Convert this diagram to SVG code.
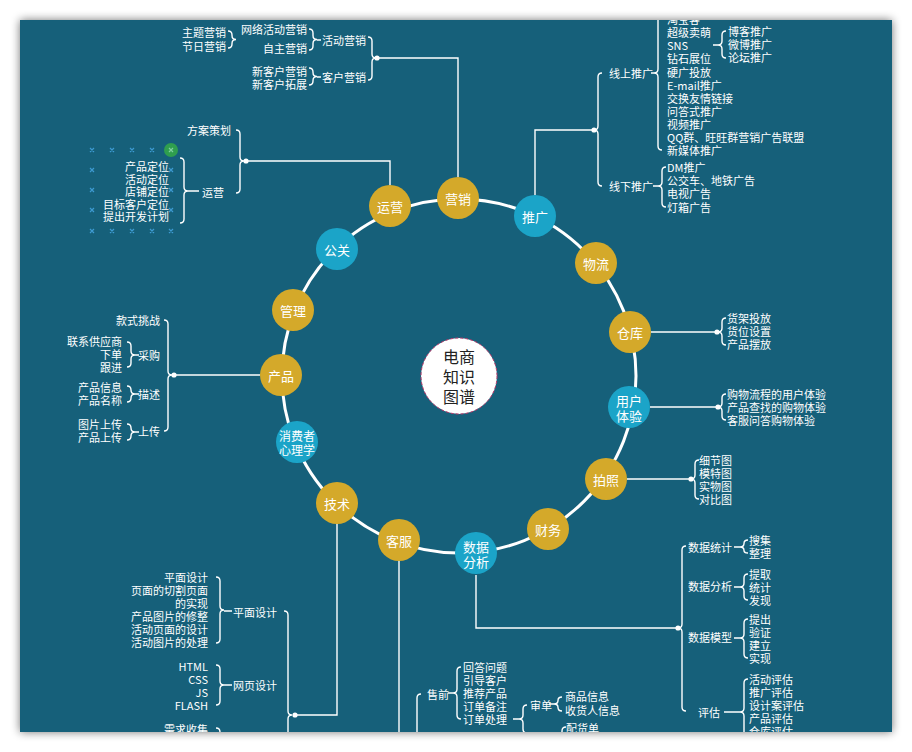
<svg xmlns="http://www.w3.org/2000/svg" width="912" height="752" viewBox="0 0 912 752">
<defs>
<clipPath id="panel"><rect x="20" y="20" width="872" height="712"/></clipPath>
<filter id="sh" x="-5%" y="-5%" width="110%" height="110%"><feGaussianBlur in="SourceAlpha" stdDeviation="5"/><feComponentTransfer><feFuncA type="linear" slope="0.55"/></feComponentTransfer><feMerge><feMergeNode/><feMergeNode in="SourceGraphic"/></feMerge></filter>
<style>
.t{font-family:"Noto Sans CJK SC","Liberation Sans",sans-serif;font-size:11px;fill:#ffffff;dominant-baseline:central}
.e{text-anchor:end}
.n{font-family:"Noto Sans CJK SC","Liberation Sans",sans-serif;font-size:13px;fill:#ffffff;text-anchor:middle;dominant-baseline:central}
.c{font-family:"Noto Sans CJK SC","Liberation Sans",sans-serif;font-size:16px;fill:#222;text-anchor:middle;dominant-baseline:central}
.l{fill:none;stroke:#ffffff;stroke-width:1.4}
.g{fill:#d4a92a}
.b{fill:#1ba4c8}
.x{stroke:#3d9ad0;stroke-width:1.2}
</style>
</defs>
<rect x="0" y="0" width="912" height="752" fill="#ffffff"/>
<rect x="20" y="20" width="872" height="712" fill="#14607a" filter="url(#sh)"/>
<g clip-path="url(#panel)">
<g id="connectors" class="l">
<circle cx="459" cy="376" r="177" stroke-width="3"/>
<path d="M458,177V58H377"/>
<path d="M535,195V130H594"/>
<path d="M390,185V161H246"/>
<path d="M260,375H174"/>
<path d="M651,332H717"/>
<path d="M650,407H718"/>
<path d="M627,479H691"/>
<path d="M476,575V628H678"/>
<path d="M337,524V715H295"/>
<path d="M399,561V760"/>
<!-- } braces -->
<path d="M368,37Q372,37 372,41V54Q372,58 376,58Q372,58 372,62V76Q372,80 368,80"/>
<path d="M309,29Q313,29 313,33V35.5Q313,39.5 317,39.5Q313,39.5 313,43.5V46Q313,50 309,50"/>
<path d="M228,31Q232,31 232,35V35.5Q232,39.5 236,39.5Q232,39.5 232,43.5V44Q232,48 228,48"/>
<path d="M309,68Q313,68 313,72V72.5Q313,76.5 317,76.5Q313,76.5 313,80.5V81Q313,85 309,85"/>
<path d="M236,130Q240,130 240,134V157Q240,161 244,161Q240,161 240,165V189Q240,193 236,193"/>
<path d="M180,158Q184,158 184,162V187Q184,191 188,191Q184,191 184,195V219Q184,223 180,223"/>
<path d="M164,320Q168,320 168,324V371Q168,375 172,375Q168,375 168,379V427Q168,431 164,431"/>
<path d="M127,342Q131,342 131,346V351Q131,355 135,355Q131,355 131,359V363Q131,367 127,367"/>
<path d="M127,386Q131,386 131,390V390Q131,394 135,394Q131,394 131,398V398Q131,402 127,402"/>
<path d="M127,424Q131,424 131,428V428Q131,432 135,432Q131,432 131,436V436Q131,440 127,440"/>
<path d="M284,611Q288,611 288,615V711Q288,715 292,715Q288,715 288,719V816Q288,820 284,820"/>
<path d="M216,577Q220,577 220,581V606Q220,610 224,610Q220,610 220,614V639Q220,643 216,643"/>
<path d="M216,665Q220,665 220,669V681Q220,685 224,685Q220,685 220,689V701Q220,705 216,705"/>
<path d="M216,728Q220,728 220,732V756Q220,760 224,760Q220,760 220,764V786Q220,790 216,790"/>
<!-- { braces -->
<path d="M602,73Q598,73 598,77V126Q598,130 594,130Q598,130 598,134V182Q598,186 602,186"/>
<path d="M662,-10Q658,-10 658,-6V69Q658,73 654,73Q658,73 658,77V146Q658,150 662,150"/>
<path d="M726,31Q722,31 722,35V41Q722,45 718,45Q722,45 722,49V54Q722,58 726,58"/>
<path d="M666,167Q662,167 662,171V182Q662,186 658,186Q662,186 662,190V203Q662,207 666,207"/>
<path d="M726,318Q722,318 722,322V328Q722,332 718,332Q722,332 722,336V341Q722,345 726,345"/>
<path d="M726,394Q722,394 722,398V403Q722,407 718,407Q722,407 722,411V416Q722,420 726,420"/>
<path d="M699,460Q695,460 695,464V475Q695,479 691,479Q695,479 695,483V495Q695,499 699,499"/>
<path d="M686,546Q682,546 682,550V624Q682,628 678,628Q682,628 682,632V707Q682,711 686,711"/>
<path d="M748,540Q744,540 744,543.5Q744,547 740,547Q744,547 744,550.5Q744,553 748,553"/>
<path d="M748,574Q744,574 744,578V583Q744,587 740,587Q744,587 744,591V596Q744,600 748,600"/>
<path d="M748,619Q744,619 744,623V634Q744,638 740,638Q744,638 744,642V654Q744,658 748,658"/>
<path d="M748,679Q744,679 744,683V708Q744,712 740,712Q744,712 744,716V741Q744,745 748,745"/>
<path d="M421,694Q417,694 417,698V756Q417,760 413,760Q417,760 417,764V816Q417,820 421,820"/>
<path d="M461,667Q457,667 457,671V689Q457,693 453,693Q457,693 457,697V715Q457,719 461,719"/>
<path d="M527,705Q523,705 523,709V715Q523,719 519,719Q523,719 523,723V729Q523,733 527,733"/>
<path d="M562,697Q558,697 558,700.5Q558,704 554,704Q558,704 558,707.5Q558,711 562,711"/>
<path d="M566,727Q562,727 562,731V756Q562,760 558,760Q562,760 562,764V796Q562,800 566,800"/>
<!-- short dashes -->
<path d="M317,40H321M317,77H321M188,191H199M135,355H139M135,394H139M135,432H139M224,611H232M224,685H232M651,73H654M713,45H718M653,186H658M734,547H740M734,587H740M734,638H740M724,712H740M448,693H453M513,719H519M549,704H554"/>
</g>
<g id="dots" fill="#ffffff">
<circle cx="377" cy="58" r="2.6"/><circle cx="594" cy="130" r="2.6"/><circle cx="246" cy="161" r="2.6"/><circle cx="174" cy="375" r="2.6"/><circle cx="717" cy="332" r="2.6"/><circle cx="718" cy="407" r="2.6"/><circle cx="691" cy="479" r="2.6"/><circle cx="678" cy="628" r="2.6"/><circle cx="295" cy="715" r="2.6"/>
</g>
<g id="marks" class="x">
<path d="M90,148l4,4m0,-4l-4,4M110,148l4,4m0,-4l-4,4M130,148l4,4m0,-4l-4,4M150,148l4,4m0,-4l-4,4"/>
<path d="M90,168l4,4m0,-4l-4,4M90,188l4,4m0,-4l-4,4M90,208l4,4m0,-4l-4,4M90,229l4,4m0,-4l-4,4"/>
<path d="M110,229l4,4m0,-4l-4,4M130,229l4,4m0,-4l-4,4M150,229l4,4m0,-4l-4,4M169,229l4,4m0,-4l-4,4"/>
<path d="M169,168l4,4m0,-4l-4,4M169,188l4,4m0,-4l-4,4M169,208l4,4m0,-4l-4,4"/>
<circle cx="171" cy="150" r="7" fill="#2f9e4e" stroke="none"/>
<path d="M169,148l4,4m0,-4l-4,4" stroke="#7fd0a0"/>
</g>
<g id="center"><circle cx="459" cy="376" r="38" fill="#ffffff" stroke="#c2386a" stroke-width="1" stroke-dasharray="3 2"/><text class="c" x="459" y="356">电商</text><text class="c" x="459" y="376">知识</text><text class="c" x="459" y="396">图谱</text></g>
<g id="n-yingxiao"><circle class="g" cx="458" cy="198" r="21"/><text class="n" x="458" y="198">营销</text></g>
<g id="n-yunying"><circle class="g" cx="390" cy="206" r="21"/><text class="n" x="390" y="206">运营</text></g>
<g id="n-tuiguang"><circle class="b" cx="535" cy="216" r="21"/><text class="n" x="535" y="216">推广</text></g>
<g id="n-gongguan"><circle class="b" cx="337" cy="249" r="21"/><text class="n" x="337" y="249">公关</text></g>
<g id="n-wuliu"><circle class="g" cx="596" cy="263" r="21"/><text class="n" x="596" y="263">物流</text></g>
<g id="n-guanli"><circle class="g" cx="293" cy="310" r="21"/><text class="n" x="293" y="310">管理</text></g>
<g id="n-cangku"><circle class="g" cx="630" cy="332" r="21"/><text class="n" x="630" y="332">仓库</text></g>
<g id="n-chanpin"><circle class="g" cx="281" cy="375" r="21"/><text class="n" x="281" y="375">产品</text></g>
<g id="n-yonghu"><circle class="b" cx="629" cy="407" r="21"/><text class="n" x="629" y="400">用户</text><text class="n" x="629" y="415">体验</text></g>
<g id="n-xiaofei"><circle class="b" cx="297" cy="442" r="21"/><text class="n" x="297" y="435" style="font-size:12px">消费者</text><text class="n" x="297" y="449" style="font-size:12px">心理学</text></g>
<g id="n-paizhao"><circle class="g" cx="606" cy="479" r="21"/><text class="n" x="606" y="479">拍照</text></g>
<g id="n-jishu"><circle class="g" cx="337" cy="503" r="21"/><text class="n" x="337" y="503">技术</text></g>
<g id="n-caiwu"><circle class="g" cx="548" cy="529" r="21"/><text class="n" x="548" y="529">财务</text></g>
<g id="n-kefu"><circle class="g" cx="399" cy="540" r="21"/><text class="n" x="399" y="540">客服</text></g>
<g id="n-shuju"><circle class="b" cx="476" cy="553" r="21"/><text class="n" x="476" y="546">数据</text><text class="n" x="476" y="561">分析</text></g>
<g id="b-yingxiao">
<text class="t e" x="366" y="40">活动营销</text><text class="t e" x="366" y="77">客户营销</text>
<text class="t e" x="307" y="29">网络活动营销</text><text class="t e" x="307" y="48">自主营销</text>
<text class="t e" x="226" y="32">主题营销</text><text class="t e" x="226" y="46">节日营销</text>
<text class="t e" x="307" y="71">新客户营销</text><text class="t e" x="307" y="84">新客户拓展</text>
</g>
<g id="b-tuiguang">
<text class="t" x="609" y="73">线上推广</text><text class="t" x="609" y="186">线下推广</text>
<text class="t" x="667" y="19">淘宝客</text><text class="t" x="667" y="32">超级卖萌</text><text class="t" x="667" y="45">SNS</text><text class="t" x="667" y="58">钻石展位</text><text class="t" x="667" y="72">硬广投放</text><text class="t" x="667" y="85">E-mail推广</text><text class="t" x="667" y="98">交换友情链接</text><text class="t" x="667" y="111">问答式推广</text><text class="t" x="667" y="124">视频推广</text><text class="t" x="667" y="137">QQ群、旺旺群营销广告联盟</text><text class="t" x="667" y="150">新媒体推广</text>
<text class="t" x="728" y="31">博客推广</text><text class="t" x="728" y="44">微博推广</text><text class="t" x="728" y="57">论坛推广</text>
<text class="t" x="667" y="167">DM推广</text><text class="t" x="667" y="180">公交车、地铁广告</text><text class="t" x="667" y="193">电视广告</text><text class="t" x="667" y="207">灯箱广告</text>
</g>
<g id="b-yunying">
<text class="t e" x="231" y="130">方案策划</text><text class="t e" x="224" y="192">运营</text>
<text class="t e" x="169" y="166">产品定位</text><text class="t e" x="169" y="179">活动定位</text><text class="t e" x="169" y="191">店铺定位</text><text class="t e" x="169" y="204">目标客户定位</text><text class="t e" x="169" y="216">提出开发计划</text>
</g>
<g id="b-chanpin">
<text class="t e" x="160" y="320">款式挑战</text><text class="t e" x="160" y="355">采购</text><text class="t e" x="160" y="394">描述</text><text class="t e" x="160" y="431">上传</text>
<text class="t e" x="122" y="341">联系供应商</text><text class="t e" x="122" y="354">下单</text><text class="t e" x="122" y="367">跟进</text>
<text class="t e" x="122" y="387">产品信息</text><text class="t e" x="122" y="400">产品名称</text>
<text class="t e" x="122" y="424">图片上传</text><text class="t e" x="122" y="437">产品上传</text>
</g>
<g id="b-cangku"><text class="t" x="727" y="318">货架投放</text><text class="t" x="727" y="331">货位设置</text><text class="t" x="727" y="344">产品摆放</text></g>
<g id="b-yonghu"><text class="t" x="727" y="394">购物流程的用户体验</text><text class="t" x="727" y="407">产品查找的购物体验</text><text class="t" x="727" y="420">客服问答购物体验</text></g>
<g id="b-paizhao"><text class="t" x="699" y="460">细节图</text><text class="t" x="699" y="473">模特图</text><text class="t" x="699" y="486">实物图</text><text class="t" x="699" y="499">对比图</text></g>
<g id="b-shuju">
<text class="t" x="688" y="547">数据统计</text><text class="t" x="688" y="586">数据分析</text><text class="t" x="688" y="637">数据模型</text><text class="t" x="698" y="712">评估</text>
<text class="t" x="749" y="540">搜集</text><text class="t" x="749" y="553">整理</text>
<text class="t" x="749" y="574">提取</text><text class="t" x="749" y="587">统计</text><text class="t" x="749" y="600">发现</text>
<text class="t" x="749" y="619">提出</text><text class="t" x="749" y="632">验证</text><text class="t" x="749" y="645">建立</text><text class="t" x="749" y="658">实现</text>
<text class="t" x="749" y="679">活动评估</text><text class="t" x="749" y="692">推广评估</text><text class="t" x="749" y="705">设计案评估</text><text class="t" x="749" y="718">产品评估</text><text class="t" x="749" y="731">仓库评估</text>
</g>
<g id="b-jishu">
<text class="t e" x="277" y="612">平面设计</text><text class="t e" x="277" y="685">网页设计</text>
<text class="t e" x="208" y="577">平面设计</text><text class="t e" x="208" y="590">页面的切割页面</text><text class="t e" x="208" y="603">的实现</text><text class="t e" x="208" y="616">产品图片的修整</text><text class="t e" x="208" y="629">活动页面的设计</text><text class="t e" x="208" y="642">活动图片的处理</text>
<text class="t e" x="208" y="666">HTML</text><text class="t e" x="208" y="679">CSS</text><text class="t e" x="208" y="692">JS</text><text class="t e" x="208" y="705">FLASH</text>
<text class="t e" x="208" y="729">需求收集</text>
</g>
<g id="b-kefu">
<text class="t" x="427" y="694">售前</text>
<text class="t" x="463" y="667">回答问题</text><text class="t" x="463" y="680">引导客户</text><text class="t" x="463" y="693">推荐产品</text><text class="t" x="463" y="706">订单备注</text><text class="t" x="463" y="719">订单处理</text>
<text class="t" x="530" y="705">审单</text>
<text class="t" x="565" y="696">商品信息</text><text class="t" x="565" y="710">收货人信息</text>
<text class="t" x="566" y="728">配货单</text>
</g>
</g>
</svg>
